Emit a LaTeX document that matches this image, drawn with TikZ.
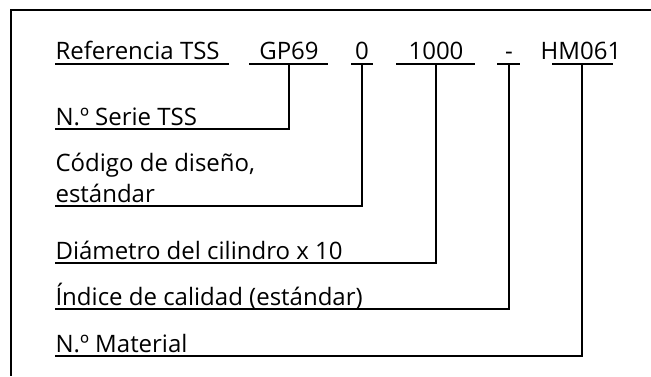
\documentclass[tikz,border=0pt]{standalone}
\usepackage{fontspec}
\setmainfont{Open Sans}
\begin{document}
\begin{tikzpicture}[x=1pt,y=-1pt,line width=1.1pt,
  lbl/.style={anchor=base west,inner sep=0pt,font=\fontsize{24}{30}\selectfont},
  code/.style={anchor=base,inner sep=0pt,font=\fontsize{24}{30}\selectfont}]
\useasboundingbox (0,0) rectangle (651,376);
% frame
\coordinate (frTR) at (651,10);
\coordinate (frTL) at (11,10);
\coordinate (frBL) at (11,376);
\draw (frTR) -- (frTL) -- (frBL);
% top row
\node[lbl]  (ref)  at (55,59)  {Referencia TSS};
\node[code] (gp)   at (289,59) {GP69};
\node[code] (zero) at (362,59) {0};
\node[code] (dia)  at (436,59) {1000};
\node[code] (dash) at (509,59) {-};
\node[code] (hm)   at (581,59) {HM061};
% underline end points of the top row
\coordinate (refL) at (55,64);  \coordinate (refR) at (229,64);
\coordinate (gpL) at (249,64);  \coordinate (gpR) at (328,64);  \coordinate (gpM) at (289,64);
\coordinate (zeL) at (351,64);  \coordinate (zeR) at (373,64);  \coordinate (zeM) at (362,64);
\coordinate (diL) at (396,64);  \coordinate (diR) at (475,64);  \coordinate (diM) at (436,64);
\coordinate (daL) at (497,64);  \coordinate (daR) at (520,64);  \coordinate (daM) at (509,64);
\coordinate (hmL) at (552,64);  \coordinate (hmR) at (613,64);  \coordinate (hmM) at (582,64);
\draw (refL) -- (refR);
\draw (gpL) -- (gpR);
\draw (zeL) -- (zeR);
\draw (diL) -- (diR);
\draw (daL) -- (daR);
\draw (hmL) -- (hmR);
% labels
\node[lbl] (serie) at (55,125) {N.º Serie TSS};
\node[lbl] (cod1) at (55,171) {Código de diseño,};
\node[lbl] (cod2) at (55,202) {estándar};
\node[lbl] (diam) at (55,259) {Diámetro del cilindro x 10};
\node[lbl] (ind)  at (55,305) {Índice de calidad (estándar)};
\node[lbl] (mat)  at (55,352) {N.º Material};
% label underline starts
\coordinate (serieL) at (55,129);
\coordinate (codL)   at (55,206);
\coordinate (diamL)  at (55,263);
\coordinate (indL)   at (55,309);
\coordinate (matL)   at (55,356);
% connectors
\draw (gpM) |- (serieL);
\draw (zeM) |- (codL);
\draw (diM) |- (diamL);
\draw (daM) |- (indL);
\draw (hmM) |- (matL);
\end{tikzpicture}
\end{document}
